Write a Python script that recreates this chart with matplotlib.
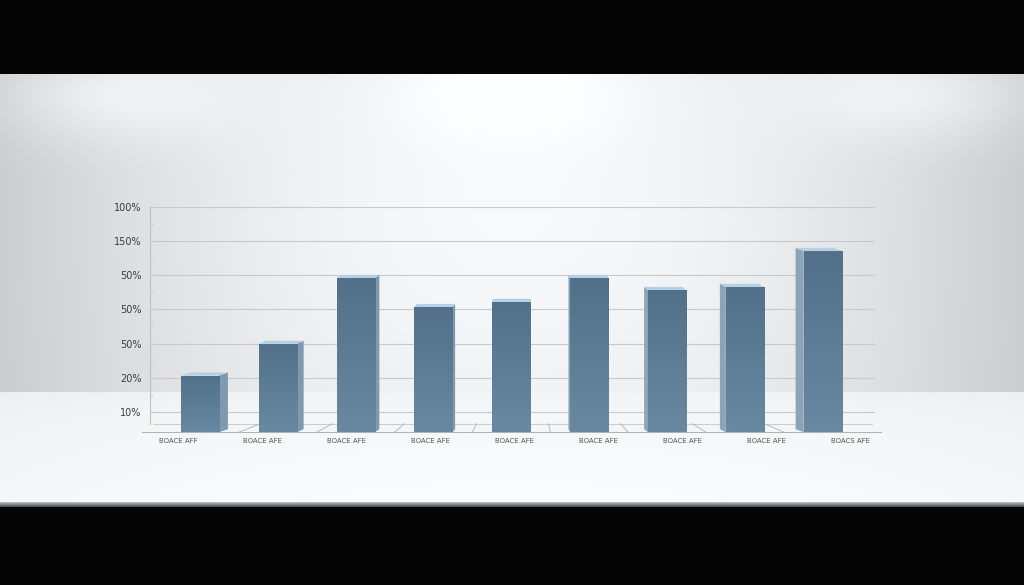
import numpy as np
import matplotlib.pyplot as plt
from matplotlib.colors import LinearSegmentedColormap
from matplotlib.patches import Polygon

# values (grid units, 0 = the "10%" line)
labels = ["BOACE AFF", "BOACE AFE", "BOACE AFE", "BOACE AFE", "BOACE AFE",
          "BOACE AFE", "BOACE AFE", "BOACE AFE", "BOACS AFE"]
values = [1.06, 1.99, 3.92, 3.07, 3.22, 3.92, 3.57, 3.66, 4.71]
tick_pos = [0, 1, 2, 3, 4, 5, 6]
tick_labels = ["10%", "20%", "50%", "50%", "50%", "150%", "100%"]

W, H = 1024, 585
fig = plt.figure(figsize=(W / 100, H / 100), dpi=100)

# ---- studio backdrop ----
yy, xx = np.mgrid[0:H, 0:W].astype(float)
v = np.zeros((H, W))
wall = (yy >= 74) & (yy < 392)
wv = (0.92 - 0.12 * np.abs((xx - 512) / 512) ** 2.5
      + 0.06 * np.exp(-((xx - 512) / 320) ** 2 - ((yy - 200) / 260) ** 2))
for cx, amp in [(100, 0.08), (512, 0.04), (930, 0.08)]:
    wv += amp * np.exp(-((xx - cx) / 120) ** 2 - ((yy - 95) / 45) ** 2)
v[wall] = wv[wall]
floor = (yy >= 392) & (yy < 502)
fv = 0.955 + 0.035 * np.sqrt((yy - 392) / 110) - 0.02 * ((xx - 512) / 512) ** 2
v[floor] = fv[floor]
edge = (yy >= 502) & (yy < 507)
v[edge] = 0.72 - 0.1 * (yy[edge] - 502)
v = np.clip(v, 0, 1)
img = np.dstack([v - 0.006, v - 0.002, v + 0.006]).clip(0, 1)
img[(yy < 74) | (yy >= 507)] = 0.02

bg = fig.add_axes([0, 0, 1, 1])
bg.imshow(img, aspect='auto', interpolation='bilinear')
bg.axis('off')

# ---- chart ----
ax = fig.add_axes([150 / W, 1 - 436 / H, 725 / W, 229 / H])
ax.patch.set_alpha(0)
ax.set_autoscale_on(False)
ax.set_xlim(-0.64, 8.67)
ax.set_ylim(-0.71, 6.0)

base = -0.6
back = -0.35
centre = 4.2
width = 0.49
dy = 0.09

# floor band
ax.fill([-0.74, 8.75, 8.63, -0.60], [base, base, back, back],
        color='#f4f5f6', zorder=1, clip_on=False)
ax.plot([-0.74, 8.75], [base, base], color='#aeb0b3', lw=0.7, zorder=1.2, clip_on=False)
ax.plot([-0.60, 8.63], [back, back], color='#c2c4c6', lw=0.6, zorder=1.2, clip_on=False)
for m in np.arange(len(values) - 1) + 0.5:
    s = 0.075 * (centre - m)
    ax.plot([m, m + s], [base, back], color='#aeb0b3', lw=0.6, zorder=1.2)

ax.set_yticks(tick_pos)
ax.set_yticklabels(tick_labels, fontsize=7, color='#3c3c3c')
ax.set_yticks(np.arange(0.5, 6, 0.5), minor=True)
ax.tick_params(axis='y', which='major', length=0, pad=6)
ax.tick_params(axis='y', which='minor', length=2.5, direction='in', color='#c4c4c4', width=0.6)
ax.yaxis.grid(True, which='major', color='#c8c9cb', lw=0.8, zorder=0.5)
ax.set_axisbelow(True)
for sp in ['top', 'right', 'bottom']:
    ax.spines[sp].set_visible(False)
ax.spines['left'].set_bounds(back, 6)
ax.spines['left'].set_color('#c0c1c3')
ax.spines['left'].set_linewidth(0.8)

x = np.arange(len(values))
ax.set_xticks([])
for i, lab in enumerate(labels):
    ax.text(i + 0.078 * (i - 3.5), -0.86, lab, fontsize=5, color='#555555',
            ha='center', va='center', clip_on=False)

front_cmap = LinearSegmentedColormap.from_list('front', ['#52708a', '#5c7d95', '#6889a1'])
grad = np.linspace(0, 1, 128).reshape(-1, 1)

bars = ax.bar(x, np.array(values) - base, bottom=base, width=width,
              color='#5c7d95', zorder=3)
for i, (b, top) in enumerate(zip(bars, values)):
    xl, xr = b.get_x(), b.get_x() + b.get_width()
    im = ax.imshow(grad, cmap=front_cmap, extent=(xl, xr, base, top),
                   origin='upper', aspect='auto', zorder=3.1)
    im.set_clip_path(b)
    dx = 0.0275 * (centre - i)
    edge_x = xr if dx > 0 else xl
    side_col = '#7f9aae' if dx > 0 else '#8ba5b8'
    ax.add_patch(Polygon([(edge_x, base), (edge_x + dx, base + dy),
                          (edge_x + dx, top + dy), (edge_x, top)],
                         closed=True, color=side_col, lw=0, zorder=2.9))
    ax.add_patch(Polygon([(xl, top), (xr, top), (xr + dx, top + dy), (xl + dx, top + dy)],
                         closed=True, color='#b3d1e2', lw=0, zorder=3.2))

fig.savefig('out.png', dpi=100)
